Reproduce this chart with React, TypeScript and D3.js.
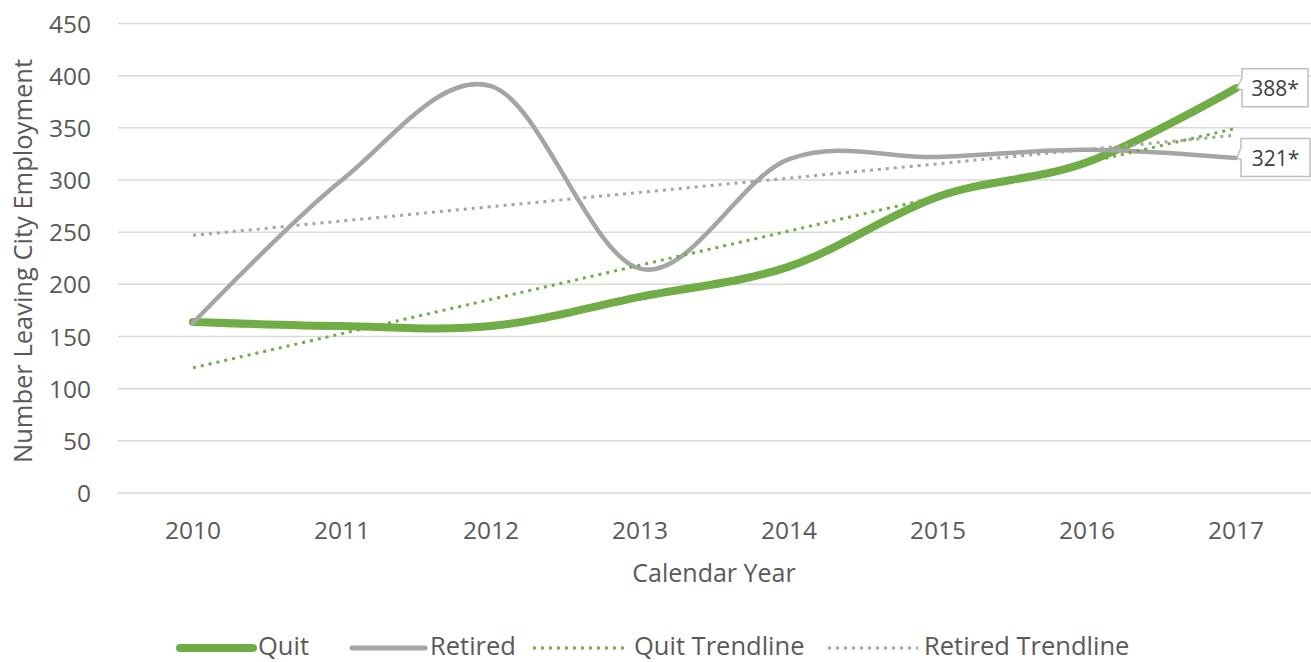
import React from "react";
import * as d3 from "d3";

// values
const years = ["2010", "2011", "2012", "2013", "2014", "2015", "2016", "2017"];
const quit = [164, 160, 160, 188, 217, 284, 317, 388];
const retired = [163, 300, 390, 215, 320, 322, 329, 321];
const yTicks = [0, 50, 100, 150, 200, 250, 300, 350, 400, 450];
const lastLabels = ["388*", "321*"];

const GREEN = "#70AD47";
const GRAY = "#A5A5A5";
const TEXT = "#595959";
const FONT = "'Open Sans', 'Noto Sans', sans-serif";

const W = 1311;
const H = 662;

// least squares fit, like Excel's linear trendline
function trend(vals: number[]) {
  const xs = vals.map((_, i) => i);
  const mx = d3.mean(xs) as number;
  const my = d3.mean(vals) as number;
  const num = d3.sum(xs, (x, i) => (x - mx) * (vals[i] - my));
  const den = d3.sum(xs, (x) => (x - mx) * (x - mx));
  const slope = num / den;
  return xs.map((x) => my + slope * (x - mx));
}

export default function App() {
  const x = d3.scaleBand().domain(years).range([118.5, 1310.5]);
  const cx = (d: string) => (x(d) as number) + x.bandwidth() / 2;
  const y = d3.scaleLinear().domain([0, 450]).range([493, 23.5]);

  const smooth = d3
    .line<number>()
    .x((_, i) => cx(years[i]))
    .y((d) => y(d))
    .curve(d3.curveCatmullRom.alpha(0));
  const straight = d3
    .line<number>()
    .x((_, i) => cx(years[i]))
    .y((d) => y(d));

  const quitTrend = trend(quit);
  const retTrend = trend(retired);

  // callout boxes at the last point of each series
  const callouts = [
    { v: quit[quit.length - 1], label: lastLabels[0], top: -19.5, h: 38, w: 66, gap: 5 },
    { v: retired[retired.length - 1], label: lastLabels[1], top: -19.5, h: 38, w: 69, gap: 4 },
  ];

  const legend = [
    { name: "Quit", color: GREEN, x0: 180, x1: 253, tx: 258, width: 8, dash: null },
    { name: "Retired", color: GRAY, x0: 352, x1: 425, tx: 430, width: 5, dash: null },
    { name: "Quit Trendline", color: GREEN, x0: 533, x1: 628, tx: 634, width: 3, dash: "3 5" },
    { name: "Retired Trendline", color: GRAY, x0: 828, x1: 918, tx: 924, width: 3, dash: "3 5" },
  ];

  return (
    <svg
      width={W}
      height={H}
      style={{ position: "absolute", left: 0, top: 0, background: "#fff" }}
      fontFamily={FONT}
    >
      {/* gridlines + y ticks */}
      <g>
        {yTicks.map((t) => (
          <g key={t}>
            <line x1={118} x2={W} y1={y(t)} y2={y(t)} stroke="#D9D9D9" strokeWidth={1.5} />
            <text x={91} y={y(t) + 9} textAnchor="end" fontSize={24.5} fill={TEXT}>
              {t}
            </text>
          </g>
        ))}
      </g>

      {/* x tick labels */}
      <g>
        {years.map((yr) => (
          <text key={yr} x={cx(yr)} y={539} textAnchor="middle" fontSize={24.5} fill={TEXT}>
            {yr}
          </text>
        ))}
      </g>

      {/* axis titles */}
      <text x={714} y={582} textAnchor="middle" fontSize={25} fill={TEXT}>
        Calendar Year
      </text>
      <text
        transform={`translate(32, 261) rotate(-90)`}
        textAnchor="middle"
        fontSize={25.5}
        fill={TEXT}
      >
        Number Leaving City Employment
      </text>

      {/* series */}
      <path d={smooth(quit) || ""} fill="none" stroke={GREEN} strokeWidth={8} strokeLinecap="round" strokeLinejoin="round" />
      <path d={smooth(retired) || ""} fill="none" stroke={GRAY} strokeWidth={4.5} strokeLinecap="round" strokeLinejoin="round" />

      {/* trendlines */}
      <path d={straight(quitTrend) || ""} fill="none" stroke={GREEN} strokeWidth={3} strokeDasharray="3 5" />
      <path d={straight(retTrend) || ""} fill="none" stroke={GRAY} strokeWidth={3} strokeDasharray="3 5" />

      {/* data callouts */}
      {callouts.map((c) => {
        const tipX = cx(years[years.length - 1]) + 1;
        const tipY = y(c.v);
        const bx = tipX + c.gap;
        const by = tipY + c.top;
        const p = [
          `M${bx},${by}`,
          `L${bx + c.w},${by}`,
          `L${bx + c.w},${by + c.h}`,
          `L${bx},${by + c.h}`,
          `L${bx},${by + 21}`,
          `L${tipX},${tipY}`,
          `L${bx},${by + 9}`,
          "Z",
        ].join(" ");
        return (
          <g key={c.label}>
            <path d={p} fill="#fff" stroke="#BFBFBF" strokeWidth={1.5} />
            <text x={bx + c.w / 2} y={by + 27} textAnchor="middle" fontSize={21} fill="#404040">
              {c.label}
            </text>
          </g>
        );
      })}

      {/* legend */}
      <g>
        {legend.map((l) => (
          <g key={l.name}>
            <line
              x1={l.x0}
              x2={l.x1}
              y1={648}
              y2={648}
              stroke={l.color}
              strokeWidth={l.width}
              strokeLinecap={l.dash ? "butt" : "round"}
              strokeDasharray={l.dash || undefined}
            />
            <text x={l.tx} y={655} fontSize={25.5} fill={TEXT}>
              {l.name}
            </text>
          </g>
        ))}
      </g>
    </svg>
  );
}
